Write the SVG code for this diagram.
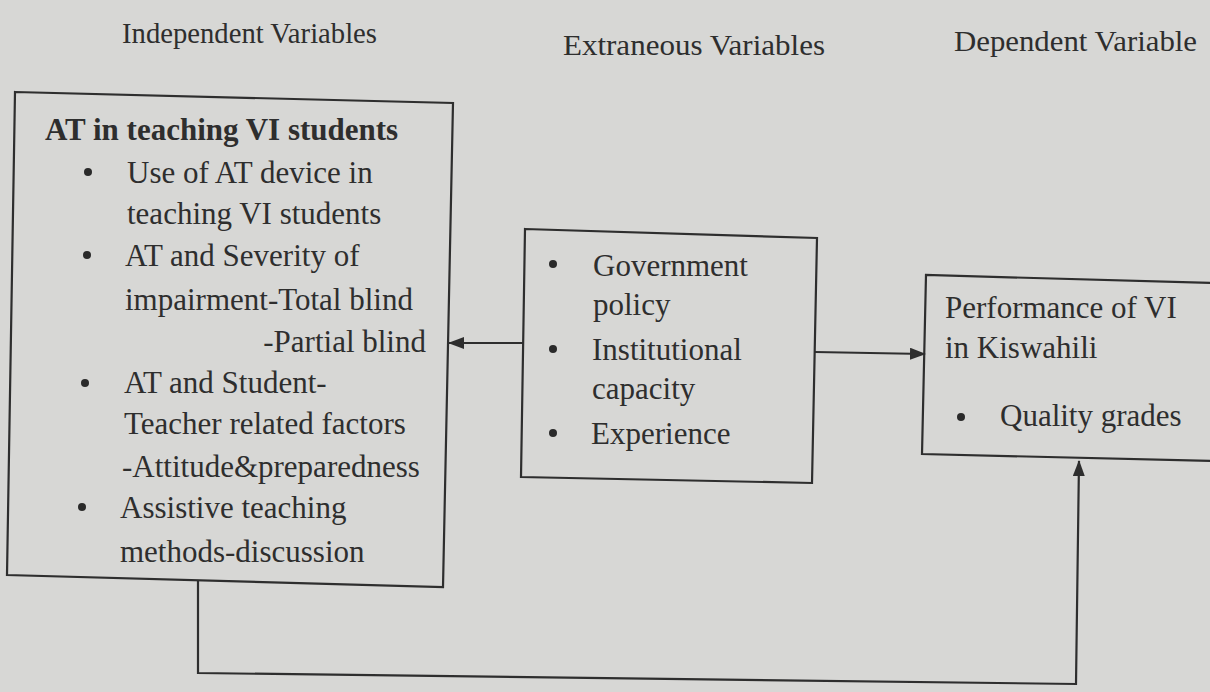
<svg xmlns="http://www.w3.org/2000/svg" width="1210" height="692" viewBox="0 0 1210 692">
<defs>
<style>
.t{font-family:"Liberation Serif","Times New Roman",serif;font-size:31px;fill:#2e2e2e}
.h{font-family:"Liberation Serif","Times New Roman",serif;font-size:30px;fill:#2e2e2e}
.b{font-weight:bold}
.box{fill:none;stroke:#2e2e2e;stroke-width:2.2}
.ln{fill:none;stroke:#2e2e2e;stroke-width:2.2}
.dot{fill:#2a2a2a}
</style>
<marker id="ah" markerWidth="16" markerHeight="12" refX="15" refY="6" orient="auto" markerUnits="userSpaceOnUse">
<path d="M0,0 L16,6 L0,12 Z" fill="#2e2e2e"/>
</marker>
</defs>
<rect width="1210" height="692" fill="#d7d7d5"/>
<g id="headers">
<text class="h" x="122" y="43" textLength="255" lengthAdjust="spacingAndGlyphs">Independent Variables</text>
<text class="h" x="563" y="55" textLength="262" lengthAdjust="spacingAndGlyphs">Extraneous Variables</text>
<text class="h" x="954" y="51" textLength="243" lengthAdjust="spacingAndGlyphs">Dependent Variable</text>
</g>
<g id="connectors">
<line class="ln" x1="523" y1="343" x2="449" y2="343" marker-end="url(#ah)"/>
<line class="ln" x1="815" y1="352" x2="925" y2="354" marker-end="url(#ah)"/>
<path class="ln" d="M198,581 L198,673 L1076,684 L1079,461" marker-end="url(#ah)"/>
</g>
<g id="independent">
<polygon class="box" points="15,92 453,103 443,587 7,575"/>
<text class="t b" x="45" y="140">AT in teaching VI students</text>
<circle class="dot" cx="88" cy="172" r="4"/>
<text class="t" x="127" y="183">Use of AT device in</text>
<text class="t" x="127" y="224">teaching VI students</text>
<circle class="dot" cx="87" cy="255" r="4"/>
<text class="t" x="125" y="266">AT and Severity of</text>
<text class="t" x="125" y="310">impairment-Total blind</text>
<text class="t" x="426" y="352" text-anchor="end">-Partial blind</text>
<circle class="dot" cx="85" cy="383" r="4"/>
<text class="t" x="124" y="393">AT and Student-</text>
<text class="t" x="124" y="434">Teacher related factors</text>
<text class="t" x="122" y="477">-Attitude&amp;preparedness</text>
<circle class="dot" cx="82" cy="507" r="4"/>
<text class="t" x="120" y="518">Assistive teaching</text>
<text class="t" x="120" y="562">methods-discussion</text>
</g>
<g id="extraneous">
<polygon class="box" points="525,229 817,238 812,483 521,477"/>
<circle class="dot" cx="553" cy="264" r="4"/>
<text class="t" x="593" y="276">Government</text>
<text class="t" x="593" y="315">policy</text>
<circle class="dot" cx="553" cy="349" r="4"/>
<text class="t" x="592" y="360">Institutional</text>
<text class="t" x="592" y="399">capacity</text>
<circle class="dot" cx="553" cy="433" r="4"/>
<text class="t" x="591" y="444">Experience</text>
</g>
<g id="dependent">
<path class="box" d="M1212,283 L926,275 L922,454 L1212,461"/>
<text class="t" x="945" y="318">Performance of VI</text>
<text class="t" x="945" y="358">in Kiswahili</text>
<circle class="dot" cx="961" cy="417" r="4"/>
<text class="t" x="1000" y="426">Quality grades</text>
</g>
</svg>
